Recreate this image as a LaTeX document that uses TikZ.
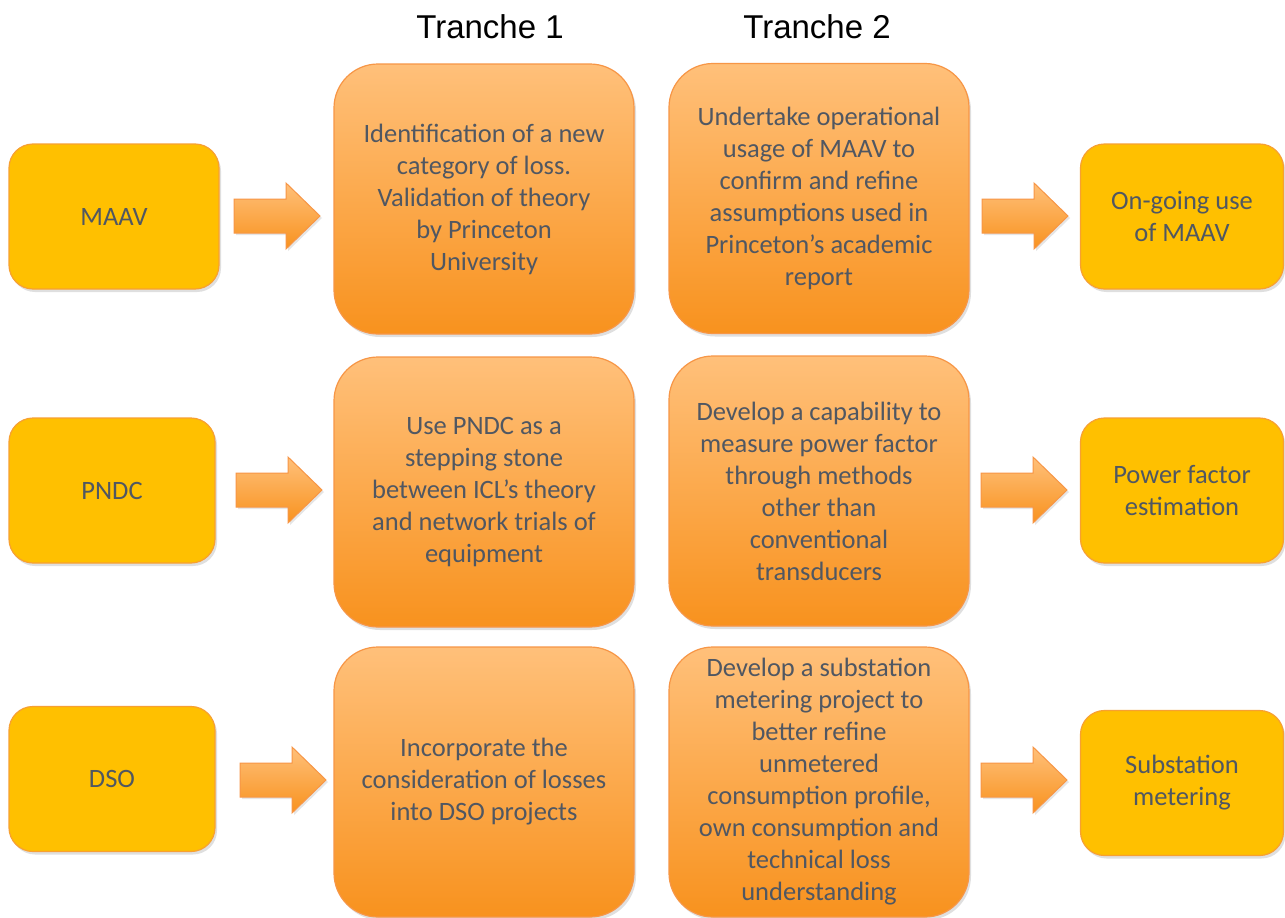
\documentclass[tikz,border=0pt]{standalone}
\usepackage{fontspec}
\setmainfont{Carlito}
\newfontfamily\headfont{Liberation Sans}
\usetikzlibrary{shadows}
\definecolor{txt}{RGB}{80,87,98}
\definecolor{yel}{RGB}{255,192,0}
\definecolor{yelb}{RGB}{247,160,50}
\definecolor{otop}{RGB}{255,192,122}
\definecolor{obot}{RGB}{248,146,30}
\definecolor{obd}{RGB}{247,150,70}
\tikzset{
  sidebox/.style={draw=yelb, line width=1.2pt, fill=yel, rounded corners=24pt,
    minimum width=#1, minimum height=145pt, align=center, text=txt,
    font=\fontsize{26.5}{32}\selectfont,
    drop shadow={opacity=0.25, shadow xshift=2pt, shadow yshift=-3pt}},
  trbox/.style={draw=obd, line width=1.2pt, top color=otop, bottom color=obot,
    rounded corners=44pt, minimum width=300pt, minimum height=270pt,
    align=center, text=txt, font=\fontsize{26.5}{32}\selectfont,
    drop shadow={opacity=0.25, shadow xshift=2pt, shadow yshift=-3pt}},
  blockarr/.style={draw=obd, line width=1pt, top color=otop, bottom color=obot,
    drop shadow={opacity=0.2, shadow xshift=2pt, shadow yshift=-2pt}},
  head/.style={font=\headfont\fontsize{33}{36}\selectfont, text=black}
}
\newcommand{\blockarrow}[3]{%
  \path[blockarr] (#1,#2-17) coordinate (#3) -- (#1+52,#2-17) -- (#1+52,#2-33) -- (#1+86,#2)
    -- (#1+52,#2+33) -- (#1+52,#2+17) -- (#1,#2+17) -- cycle;}
\begin{document}
\begin{tikzpicture}[x=1pt,y=-1pt]
\useasboundingbox (0,0) rectangle (1285,918);
\fill[white] (0,0) rectangle (1285,918);
% headers
\node[head] (h1) at (490,27) {Tranche 1};
\node[head] (h2) at (817,27) {Tranche 2};
% left boxes
\node[sidebox=210pt] (maav) at (114,216.5) {MAAV};
\node[sidebox=206pt] (pndc) at (112,490.5) {PNDC};
\node[sidebox=206pt] (dso) at (112,779) {DSO};
% tranche 1
\node[trbox] (t11) at (484,199) {Identification of a new\\category of loss.\\Validation of theory\\by Princeton\\University};
\node[trbox] (t12) at (484,492) {Use PNDC as a\\stepping stone\\between ICL’s theory\\and network trials of\\equipment};
\node[trbox] (t13) at (484,782) {Incorporate the\\consideration of losses\\into DSO projects};
% tranche 2
\node[trbox] (t21) at (819,198.5) {Undertake operational\\usage of MAAV to\\confirm and refine\\assumptions used in\\Princeton’s academic\\report};
\node[trbox] (t22) at (819,491) {Develop a capability to\\measure power factor\\through methods\\other than\\conventional\\transducers};
\node[trbox] (t23) at (819,782) {Develop a substation\\metering project to\\better refine\\unmetered\\consumption profile,\\own consumption and\\technical loss\\understanding};
% right boxes
\node[sidebox=203pt] (r1) at (1182,216.5) {On-going use\\of MAAV};
\node[sidebox=203pt] (r2) at (1182,490.5) {Power factor\\estimation};
\node[sidebox=203pt] (r3) at (1182,783) {Substation\\metering};
% arrows
\blockarrow{234}{216}{a1}
\blockarrow{236}{490}{a2}
\blockarrow{240}{780}{a3}
\blockarrow{982}{216}{b1}
\blockarrow{981}{490}{b2}
\blockarrow{981}{780}{b3}
\end{tikzpicture}
\end{document}
